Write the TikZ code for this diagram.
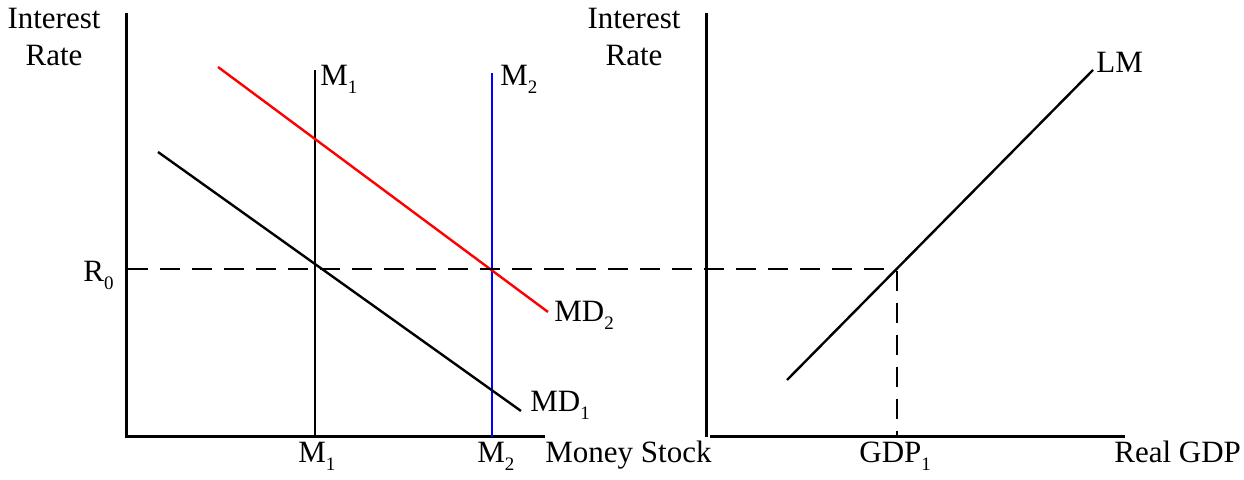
\documentclass[tikz,border=0pt]{standalone}
\usepackage{fontspec}
\setmainfont{Liberation Serif}
\newcommand{\lowsub}[1]{\raisebox{-0.55ex}{\fontsize{9.5}{9.5}\selectfont #1}}
\begin{document}
\begin{tikzpicture}[x=0.5pt,y=-0.5pt,
  axis/.style={line width=1.5pt},
  curve/.style={line width=1.2pt},
  guide/.style={line width=1.2pt, dash pattern=on 10pt off 6pt},
  lbl/.style={inner sep=0pt, anchor=base west, font=\fontsize{15.5}{18}\selectfont},
  ttl/.style={inner sep=0pt, align=center, font=\fontsize{15.5}{18.5}\selectfont, anchor=north}]
\useasboundingbox (0,0) rectangle (1244,480);
% left panel
\coordinate (ly0) at (126,13);
\coordinate (lo) at (126,437);
\coordinate (lx1) at (545,437);
\draw[axis] (ly0) -- (lo) -- (lx1);
\coordinate (m1t) at (315,70);
\coordinate (m1b) at (315,437);
\draw[curve] (m1t) -- (m1b);
\coordinate (m2t) at (492,73);
\coordinate (m2b) at (492,437);
\draw[curve, blue] (m2t) -- (m2b);
\coordinate (md2a) at (218,67);
\coordinate (md2b) at (548,312);
\draw[curve, red] (md2a) -- (md2b);
\coordinate (md1a) at (158,152);
\coordinate (md1b) at (521,411);
\draw[curve] (md1a) -- (md1b);
% right panel
\coordinate (ry0) at (706,13);
\coordinate (ro) at (706,437);
\coordinate (rx0) at (710,437);
\coordinate (rx1) at (1125,437);
\draw[axis] (ry0) -- (ro);
\draw[axis] (rx0) -- (rx1);
\coordinate (lma) at (787,380);
\coordinate (lmb) at (1093,70);
\draw[curve] (lma) -- (lmb);
% dashed guides
\coordinate (r0a) at (128,269);
\coordinate (r0b) at (895,269);
\coordinate (g1t) at (897,271);
\coordinate (g1b) at (897,437);
\draw[guide] (r0a) -- (r0b);
\draw[guide] (g1t) -- (g1b);
% labels
\node[ttl] (ir1) at (54,8) {Interest\\Rate};
\node[ttl] (ir2) at (634,8) {Interest\\Rate};
\node[lbl] (lm1t) at (320,86) {M\lowsub{1}};
\node[lbl] (lm2t) at (500,86) {M\lowsub{2}};
\node[lbl] (lr0) at (83,282) {R\lowsub{0}};
\node[lbl] (lmd2) at (554,322) {MD\lowsub{2}};
\node[lbl] (lmd1) at (530,412) {MD\lowsub{1}};
\node[lbl] (lm1b) at (298,463) {M\lowsub{1}};
\node[lbl] (lm2b) at (477,463) {M\lowsub{2}};
\node[lbl] (lms) at (545,463) {Money Stock};
\node[lbl] (lgdp) at (859,463) {GDP\lowsub{1}};
\node[lbl] (lrg) at (1114,463) {Real GDP};
\node[lbl] (llm) at (1096,73) {LM};
\end{tikzpicture}
\end{document}
